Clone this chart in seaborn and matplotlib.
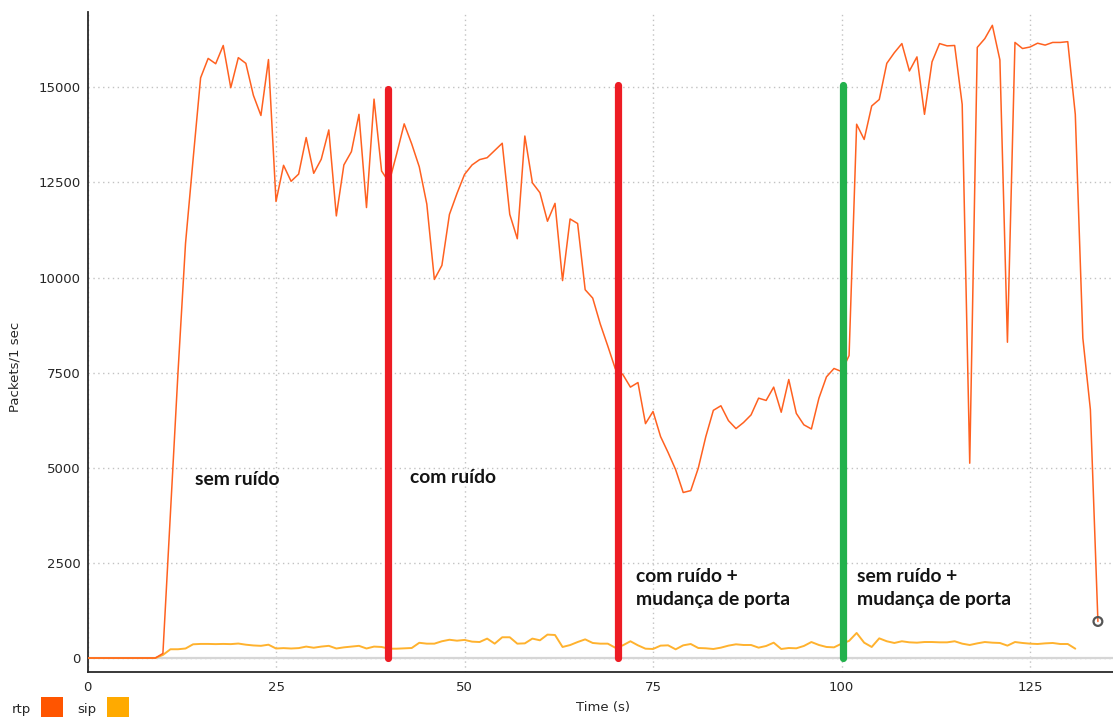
import numpy as np
import pandas as pd
import matplotlib
matplotlib.use("Agg")
import matplotlib.pyplot as plt
import seaborn as sns
from matplotlib.ticker import MultipleLocator
from matplotlib.patches import Rectangle

# Packets per second for each stream, one value per second starting at t = 0
rtp_pps = [
    0, 0, 0, 0, 0, 0, 0, 0, 0, 0,
    120, 3800, 7500, 10900, 13100, 15250, 15760, 15620, 16100, 14990,
    15780, 15630, 14790, 14260, 15730, 12000, 12950, 12530, 12720, 13680,
    12740, 13110, 13880, 11620, 12960, 13310, 14290, 11840, 14690, 12800,
    12500, 13250, 14040, 13510, 12910, 11930, 9950, 10320, 11660, 12210,
    12710, 12960, 13100, 13150, 13340, 13530, 11660, 11020, 13720, 12490,
    12230, 11480, 11950, 9920, 11540, 11420, 9680, 9460, 8780, 8200,
    7600, 7450, 7120, 7240, 6160, 6480, 5820, 5400, 4950, 4350,
    4400, 4990, 5820, 6510, 6630, 6240, 6030, 6190, 6390, 6830,
    6770, 7120, 6460, 7320, 6430, 6130, 6020, 6830, 7390, 7610,
    7530, 7950, 14030, 13630, 14510, 14680, 15630, 15910, 16150, 15430,
    15800, 14290, 15670, 16150, 16090, 16100, 14550, 5120, 16050, 16280,
    16630, 15720, 8300, 16180, 16020, 16060, 16160, 16110, 16180, 16180,
    16200, 14290, 8410, 6530, 960,
]

sip_pps = [
    0, 0, 0, 0, 0, 0, 0, 0, 0, 0,
    80, 230, 230, 250, 360, 370, 370, 365, 370, 365,
    380, 350, 330, 320, 350, 250, 260, 250, 260, 300,
    270, 300, 320, 250, 280, 300, 320, 250, 300, 290,
    245, 245, 255, 263, 400, 377, 377, 440, 480, 455,
    475, 430, 420, 510, 377, 545, 545, 377, 385, 510,
    465, 615, 605, 290, 340, 420, 490, 395, 377, 377,
    270, 333, 440, 333, 245, 237, 325, 333, 228, 333,
    368, 263, 255, 237, 272, 325, 360, 342, 342, 272,
    316, 403, 237, 263, 255, 316, 420, 342, 290, 280,
    377, 450, 658, 403, 290, 517, 440, 395, 440, 412,
    403, 420, 420, 412, 412, 440, 377, 342, 385, 420,
    403, 395, 325, 420, 395, 377, 368, 385, 395, 368,
    368, 245,
]

# Phase boundaries (s) and the height of each marker bar (packets/s)
phase_time = [39.9, 70.4, 100.2]
phase_top = [14950, 15050, 15060]
phase_color = ["#ed1c24", "#ed1c24", "#22b14c"]

# Phase captions: (time, packets/s, text)
caption_time = [14.3, 42.8, 72.75, 102.05]
caption_level = [4680, 4737, 1842, 1842]
caption_text = ["sem ruído", "com ruído",
                "com ruído +\nmudança de porta", "sem ruído +\nmudança de porta"]

legend_labels = ["rtp", "sip"]
legend_colors = ["#ff5500", "#ffaa00"]

sns.set_style("white")
plt.rcParams["font.family"] = ["DejaVu Sans"]

W, H = 1113, 717
fig = plt.figure(figsize=(W / 100, H / 100), dpi=100)
x0, x1, y0, y1 = 87.5, 1113, 671.7, 12
ax = fig.add_axes([x0 / W, (H - y0) / H, (x1 - x0) / W, (y0 - y1) / H])

rtp_df = pd.DataFrame({"t": np.arange(len(rtp_pps)), "pps": rtp_pps})
sip_df = pd.DataFrame({"t": np.arange(len(sip_pps)), "pps": sip_pps})

ax.axhline(0, color="#d6d6d6", lw=1.6, zorder=1)
sns.lineplot(data=sip_df, x="t", y="pps", ax=ax, color="#ffb22e", lw=1.4, zorder=3)
sns.lineplot(data=rtp_df, x="t", y="pps", ax=ax, color="#ff6120", lw=1.1, zorder=4)

# tracer on the last rtp sample
sns.scatterplot(data=rtp_df.tail(1), x="t", y="pps", ax=ax, s=40,
                facecolor="none", edgecolor="#555555", linewidth=1.6, zorder=6)

for t, top, c in zip(phase_time, phase_top, phase_color):
    ax.plot([t, t], [0, top], color=c, lw=5.2, solid_capstyle="round", zorder=5)

for t, v, s in zip(caption_time, caption_level, caption_text):
    ax.text(t, v, s, family=["Lato", "DejaVu Sans"], fontweight="bold",
            fontsize=13.9, color="#141414", ha="left", va="center",
            linespacing=1.45, zorder=7)

ax.set_xlim(0, 136)
ax.set_ylim(-360, 16980)
ax.xaxis.set_major_locator(MultipleLocator(25))
ax.xaxis.set_minor_locator(MultipleLocator(5))
ax.yaxis.set_major_locator(MultipleLocator(2500))
ax.yaxis.set_minor_locator(MultipleLocator(500))

ax.grid(True, which="major", color="#c2c2c2", lw=1.0, ls=(0, (1, 2.5)), zorder=0)
for side in ("top", "right"):
    ax.spines[side].set_visible(False)
for side in ("left", "bottom"):
    ax.spines[side].set_color("#2a2a2a")
    ax.spines[side].set_linewidth(1.3)

ax.tick_params(which="major", direction="in", length=7, width=1.1,
               color="#2a2a2a", labelsize=9.5, labelcolor="#262626")
ax.tick_params(which="minor", direction="in", length=3.5, width=1.0, color="#2a2a2a")
ax.tick_params(axis="y", pad=5)
ax.tick_params(axis="x", pad=6.5)

ax.set_xlabel("Time (s)", fontsize=9.5, color="#262626")
ax.set_ylabel("Packets/1 sec", fontsize=9.5, color="#262626")
ax.xaxis.label.set_va("center")
ax.yaxis.label.set_va("center")
ax.xaxis.set_label_coords((603 - x0) / (x1 - x0), (y0 - 708) / (y0 - y1))
ax.yaxis.set_label_coords((15 - x0) / (x1 - x0), (y0 - 367) / (y0 - y1))

# key for the two streams, laid out along the bottom-left edge
key_text_x = [12, 77]
key_box_x = [41, 107]
for tx, bx, lab, col in zip(key_text_x, key_box_x, legend_labels, legend_colors):
    fig.text(tx / W, (H - 709) / H, lab, fontsize=9.5, color="#262626",
             ha="left", va="center")
    fig.add_artist(Rectangle((bx / W, (H - 718) / H), 22 / W, 21 / H,
                             facecolor=col, edgecolor="none",
                             transform=fig.transFigure))

fig.savefig("out.png", dpi=100, facecolor="white")
